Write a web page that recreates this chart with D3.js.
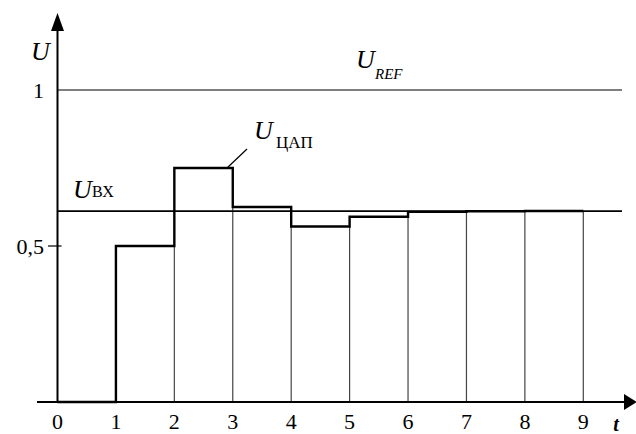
<!DOCTYPE html>
<html>
<head>
<meta charset="utf-8">
<script src="https://cdn.jsdelivr.net/npm/d3@7"></script>
</head>
<body style="margin:0">
<svg width="636" height="434" style="font-family: 'Liberation Serif'"></svg>
<script>
// step levels of the DAC output, one per clock interval 0-1, 1-2, ... 8-9
const levels = [0, 0.5, 0.75, 0.625, 0.5625, 0.59375, 0.609375, 0.6113, 0.6122];
const xTicks = [0, 1, 2, 3, 4, 5, 6, 7, 8, 9];
const yTicks = [1, 0.5];
const yTickLabels = ['1', '0,5'];
const uRef = 1;
const uIn = 0.612;

const svg = d3.select('svg');

const x = d3.scaleLinear().domain([0, 9]).range([57.5, 583.3]);
const y = d3.scaleLinear().domain([0, 1]).range([402, 90]);

// thin verticals under the steps
const verticals = d3.range(2, 10).map(t => ({
  t,
  v: Math.min(levels[t - 1], levels[t] === undefined ? levels[t - 1] : levels[t])
}));
svg.selectAll('line.vert')
  .data(verticals)
  .enter().append('line')
  .attr('x1', d => x(d.t)).attr('x2', d => x(d.t))
  .attr('y1', y(0)).attr('y2', d => y(d.v))
  .attr('stroke', '#444').attr('stroke-width', 1.2);

// reference and input levels
svg.append('line')
  .attr('x1', x(0)).attr('x2', 622)
  .attr('y1', y(uRef)).attr('y2', y(uRef))
  .attr('stroke', '#000').attr('stroke-width', 1.2);

svg.append('line')
  .attr('x1', x(0)).attr('x2', 622)
  .attr('y1', y(uIn)).attr('y2', y(uIn))
  .attr('stroke', '#000').attr('stroke-width', 1.8);

// DAC staircase
const pts = levels.map((v, i) => [i, v]).concat([[9, levels[levels.length - 1]]]);
const step = d3.line()
  .x(d => x(d[0]))
  .y(d => y(d[1]))
  .curve(d3.curveStepAfter);
svg.append('path')
  .attr('d', step(pts))
  .attr('fill', 'none')
  .attr('stroke', '#000')
  .attr('stroke-width', 2.4);

// axes
svg.append('line')
  .attr('x1', x(0)).attr('x2', x(0))
  .attr('y1', y(0)).attr('y2', 28)
  .attr('stroke', '#000').attr('stroke-width', 2);
svg.append('path')
  .attr('d', `M${x(0)},13 L${x(0) - 6.5},31 L${x(0) + 6.5},31 Z`)
  .attr('fill', '#000');

svg.append('line')
  .attr('x1', 37).attr('x2', 628)
  .attr('y1', y(0)).attr('y2', y(0))
  .attr('stroke', '#000').attr('stroke-width', 2);
svg.append('path')
  .attr('d', `M637,${y(0)} L624,${y(0) - 8} L624,${y(0) + 8} Z`)
  .attr('fill', '#000');

// y tick at 0.5
svg.append('line')
  .attr('x1', 48).attr('x2', x(0) + 4)
  .attr('y1', y(0.5)).attr('y2', y(0.5))
  .attr('stroke', '#000').attr('stroke-width', 1.2);

const txt = (sx, sy, s, size, italic) => svg.append('text')
  .attr('x', sx).attr('y', sy)
  .attr('font-family', 'Liberation Serif')
  .attr('font-size', size)
  .attr('font-style', italic ? 'italic' : null)
  .text(s);

yTicks.forEach((d, i) => {
  txt(44, y(d) + 8, yTickLabels[i], 22, false).attr('text-anchor', 'end');
});

xTicks.forEach(d => {
  txt(x(d), 429, String(d), 22, false).attr('text-anchor', 'middle');
});

// labels
txt(616, 431, 't', 20, true).attr('text-anchor', 'middle').attr('font-weight', 'bold');
txt(31, 60, 'U', 26, true);

const subLabel = (ux, uy, sub, sx, sy, size, italic) => {
  txt(ux, uy, 'U', 26, true);
  txt(sx, sy, sub, size, italic);
};
subLabel(356, 68, 'REF', 375, 79, 15, true);
subLabel(254, 139, 'ЦАП', 276, 148, 17, false);
subLabel(73, 198, 'ВХ', 92, 197, 16, false);

// leader to the DAC staircase
svg.append('line')
  .attr('x1', 227).attr('y1', y(0.75))
  .attr('x2', 247).attr('y2', 149)
  .attr('stroke', '#000').attr('stroke-width', 1.2);
</script>
</body>
</html>
